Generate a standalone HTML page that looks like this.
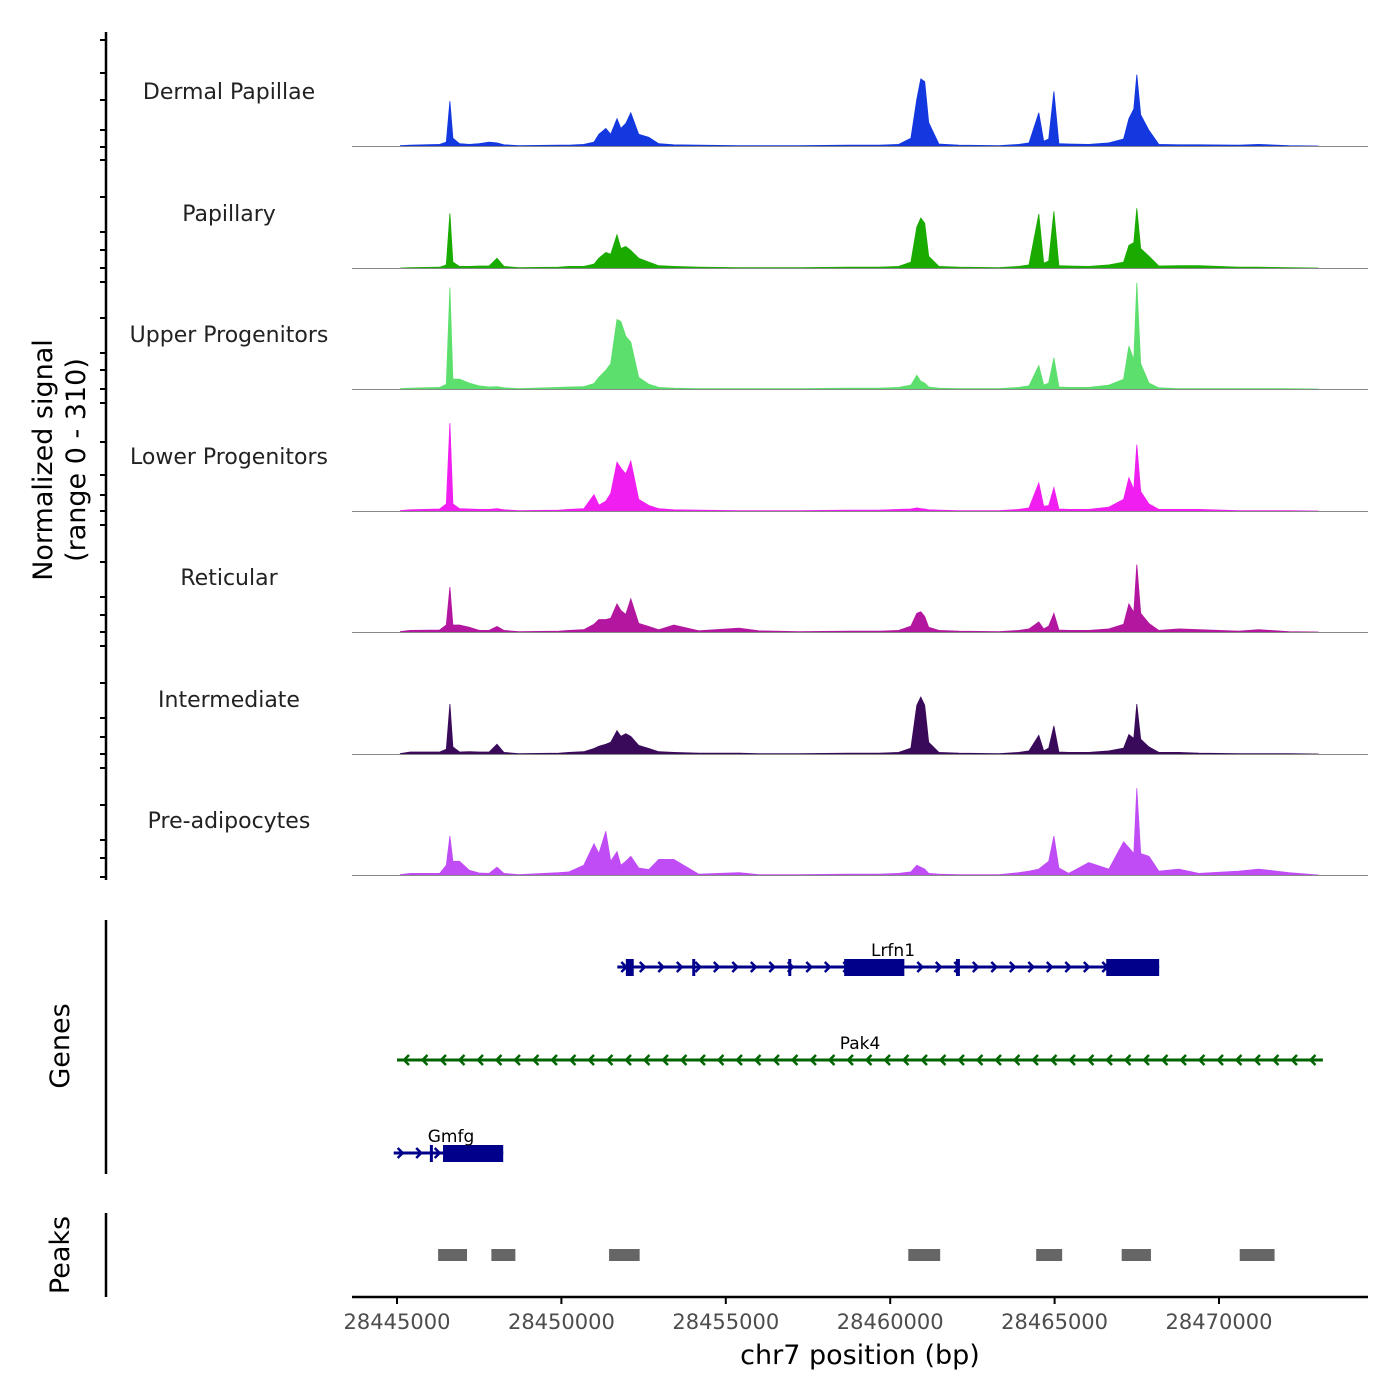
<!DOCTYPE html>
<html><head><meta charset="utf-8"><style>
html,body{margin:0;padding:0;background:#fff;}
svg{display:block;font-family:"DejaVu Sans","Liberation Sans",sans-serif;}
</style></head><body>
<svg id="chart" width="1400" height="1400" viewBox="0 0 1400 1400" xmlns="http://www.w3.org/2000/svg">
<g id="tracks"></g>
<g id="axes"></g>
<g id="genes"></g>
<g id="peaks"></g>
</svg>
<script>
// ---- data ----
const trackNames = ["Dermal Papillae","Papillary","Upper Progenitors","Lower Progenitors","Reticular","Intermediate","Pre-adipocytes"];
const trackColors = ["#1438e0","#1aab00","#5cdf6c","#f01ef0","#b3179f","#3a0a5a","#c04cf6"];
const positions = [28445100,28445400,28446300,28446500,28446610,28446700,28446900,28447200,28447500,28447800,28448040,28448250,28448700,28449920,28450230,28450680,28450990,28451140,28451350,28451500,28451690,28451810,28451960,28452110,28452350,28452660,28452960,28453420,28454180,28455400,28456000,28457220,28458740,28459650,28460260,28460630,28460810,28460930,28461050,28461170,28461480,28462090,28463300,28463910,28464220,28464520,28464670,28464820,28464980,28465130,28465430,28466040,28466650,28467100,28467260,28467410,28467500,28467620,28467870,28468170,28468780,28469390,28470600,28471210,28472120,28473030];
const dermalPapillae = [1,2,4,10,115,20,6,4,6,10,8,3,1,2,2,4,10,30,45,30,70,45,58,85,30,22,6,3,2,1,1,1,2,2,4,20,120,172,165,60,5,2,1,4,8,85,12,18,140,6,5,4,8,18,70,95,183,80,40,4,3,3,2,4,1,0];
const papillary = [0,1,2,8,140,15,4,4,5,5,25,4,1,2,4,4,10,25,40,35,85,50,55,45,25,15,6,4,2,1,1,1,2,2,4,15,105,128,115,30,4,2,1,4,8,138,12,18,145,6,5,4,8,15,58,65,153,50,30,5,6,6,2,2,1,0];
const upperProgenitors = [1,2,4,12,260,25,25,15,8,5,6,3,1,4,5,6,14,30,48,65,178,173,135,120,30,12,4,2,1,1,1,1,2,2,4,10,35,20,15,5,2,1,1,4,8,60,10,15,80,5,4,4,10,25,110,75,272,65,15,3,1,1,1,1,1,0];
const lowerProgenitors = [1,3,5,18,225,18,6,5,4,4,6,3,1,2,4,6,42,15,25,45,125,110,95,128,30,14,6,3,2,1,1,1,2,2,4,5,8,6,5,3,2,1,1,4,8,72,12,14,60,5,4,4,10,30,85,55,170,50,18,4,4,4,1,1,1,0];
const reticular = [1,4,5,18,115,18,18,12,4,4,14,4,1,2,4,6,20,32,32,35,72,55,45,85,22,14,6,18,3,10,3,1,2,2,4,15,48,52,40,12,4,2,1,4,8,26,8,15,48,5,4,4,8,20,72,50,173,48,22,4,8,6,2,6,1,0];
const intermediate = [1,5,5,12,128,18,5,6,5,5,25,4,1,2,4,6,14,20,25,30,60,45,52,45,22,14,6,4,2,2,1,1,2,2,4,15,125,146,125,30,4,2,1,4,8,48,8,15,72,5,4,4,8,15,50,40,128,38,18,4,4,2,1,1,1,0];
const preAdipocytes = [1,4,4,25,100,35,35,12,5,4,20,4,1,6,8,25,80,55,112,35,60,25,35,48,18,14,40,40,2,6,1,1,2,2,4,8,25,20,15,4,2,1,1,6,10,15,25,35,100,18,4,32,15,85,70,55,222,55,48,10,15,4,10,15,6,0];
const trackValues = [dermalPapillae,papillary,upperProgenitors,lowerProgenitors,reticular,intermediate,preAdipocytes];
const xTicks = [28445000,28450000,28455000,28460000,28465000,28470000];
const yTickPx = [40,73,100,130,147,160,197,232,250,268,282,318,353,370,389,403,442,475,495,511,525,562,597,615,632,646,683,718,737,754,768,805,840,858,877];
const peakStarts = [28446250,28447870,28451450,28460550,28464440,28467040,28470630];
const peakEnds = [28447130,28448600,28452380,28461520,28465230,28467930,28471690];
const lrfn1Exons = [[28451960,28452200],[28453980,28454000],[28456900,28456960],[28458600,28460430],[28462000,28462120],[28466570,28468180]];
const gmfgExons = [[28446000,28446060],[28446400,28448230]];
// ---- scales ----
const X0=28445000,PX0=397,PPB=822/25000;
function xs(bp){return PX0+(bp-X0)*PPB;}
const baseY=[146,268,389,511,632,754,875], TH=121, YMAX=310;
function ys(i,v){return baseY[i]-v/YMAX*TH;}
const NS="http://www.w3.org/2000/svg";
function mk(tag,attrs,parent,text){const e=document.createElementNS(NS,tag);for(const k in attrs)e.setAttribute(k,attrs[k]);if(text!==undefined)e.textContent=text;parent.appendChild(e);return e;}
const tracks=document.getElementById('tracks');
trackValues.forEach((vals,i)=>{
  const g=mk('g',{},tracks);
  
  
  let d='M'+xs(positions[0])+','+baseY[i];
  positions.forEach((p,j)=>{d+=' L'+xs(p).toFixed(1)+','+ys(i,vals[j]).toFixed(1);});
  d+=' L'+xs(positions[positions.length-1])+','+baseY[i]+' Z';
  const a=mk('path',{d:d,fill:trackColors[i],stroke:trackColors[i],'stroke-width':0.8},g);
  
  
  const b=mk('line',{x1:352,x2:1368,y1:baseY[i]+0.5,y2:baseY[i]+0.5,stroke:'#888','stroke-width':1},g);
  
  
  const t=mk('text',{x:229,y:baseY[i]-47,'text-anchor':'middle','font-size':22,fill:'#222'},g,trackNames[i]);
  
  
});
const axes=document.getElementById('axes');
let l=mk('line',{x1:106,x2:106,y1:32,y2:880,stroke:'#000','stroke-width':2.5},axes);


yTickPx.forEach(y=>{const t=mk('line',{x1:100,x2:106,y1:y,y2:y,stroke:'#000','stroke-width':2},axes);

});
let yt=mk('text',{transform:'translate(52,460) rotate(-90)','text-anchor':'middle','font-size':27,fill:'#000'},axes);


mk('tspan',{x:0,dy:0},yt,'Normalized signal');
mk('tspan',{x:0,dy:33},yt,'(range 0 - 310)');
l=mk('line',{x1:106,x2:106,y1:920,y2:1174,stroke:'#000','stroke-width':2.5},axes);


l=mk('text',{transform:'translate(69,1046) rotate(-90)','text-anchor':'middle','font-size':27},axes,'Genes');


l=mk('line',{x1:106,x2:106,y1:1213,y2:1297,stroke:'#000','stroke-width':2.5},axes);


l=mk('text',{transform:'translate(69,1255) rotate(-90)','text-anchor':'middle','font-size':27},axes,'Peaks');


l=mk('line',{x1:352,x2:1368,y1:1297,y2:1297,stroke:'#000','stroke-width':2.5},axes);


xTicks.forEach(v=>{
  const t=mk('line',{x1:xs(v),x2:xs(v),y1:1297,y2:1304,stroke:'#000','stroke-width':2},axes);
  
  
  const tl=mk('text',{x:xs(v),y:1329,'text-anchor':'middle','font-size':21,fill:'#4d4d4d'},axes,String(v));
  
  
});
l=mk('text',{x:860,y:1364,'text-anchor':'middle','font-size':27},axes,'chr7 position (bp)');


// genes
const genes=document.getElementById('genes');
function gene(name,start,end,y,color,dir,exons,labelX,labelY){
  const g=mk('g',{},genes);
  
  
  mk('line',{x1:xs(start),x2:xs(end),y1:y,y2:y,stroke:color,'stroke-width':3},g);
  const step=18.5;
  for(let x=xs(start)+8;x<xs(end)-4;x+=step){
    const d=dir>0?`M${x-4},${y-5} L${x+1},${y} L${x-4},${y+5}`:`M${x+4},${y-5} L${x-1},${y} L${x+4},${y+5}`;
    mk('path',{d:d,fill:'none',stroke:color,'stroke-width':2.5},g);
  }
  exons.forEach(e=>{mk('rect',{x:xs(e[0]),y:y-8,width:Math.max(3,xs(e[1])-xs(e[0])),height:17,fill:color},g);});
  const t=mk('text',{x:labelX,y:labelY,'text-anchor':'middle','font-size':17,fill:'#000'},g,name);
  
  
}
gene('Lrfn1',28451700,28468180,967,'#00008b',1,lrfn1Exons,893,956);
gene('Pak4',28445000,28473160,1060,'#006400',-1,[],860,1049);
gene('Gmfg',28444900,28448230,1153,'#00008b',1,gmfgExons,451,1142);
// peaks
const peaks=document.getElementById('peaks');
peakStarts.forEach((s,i)=>{
  const r=mk('rect',{x:xs(s),y:1249,width:xs(peakEnds[i])-xs(s),height:12,fill:'#666'},peaks);
  
  
});
</script>
</body></html>
